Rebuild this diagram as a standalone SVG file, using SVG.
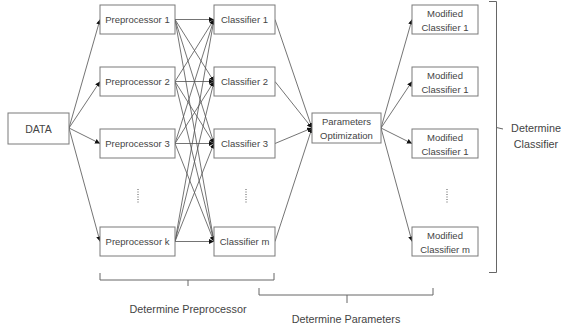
<svg xmlns="http://www.w3.org/2000/svg" width="562" height="327" viewBox="0 0 562 327">
<defs>
<style>
.box{fill:#fff;stroke:#7a7a7a;stroke-width:1}
.t{font-family:"Liberation Sans",Arial,sans-serif;font-size:9.5px;fill:#444;text-anchor:middle}
.big{font-size:10.8px}
.c{fill:none;stroke:#505050;stroke-width:0.8;marker-end:url(#ah)}
.br{fill:none;stroke:#666;stroke-width:1}
.dot{fill:none;stroke:#555;stroke-width:1;stroke-dasharray:1 1.5}
</style>
<marker id="ah" viewBox="0 0 6 6" refX="6" refY="3" markerWidth="5" markerHeight="5" markerUnits="userSpaceOnUse" orient="auto">
<path d="M0,0 L6,3 L0,6 z" fill="#111"/>
</marker>
</defs>
<rect width="562" height="327" fill="#fff"/>
<g id="connectors">
<path class="c" d="M69,128 L100,19.5"/>
<path class="c" d="M69,128 L100,81.5"/>
<path class="c" d="M69,128 L100,143.5"/>
<path class="c" d="M69,128 L100,241.5"/>
<path class="c" d="M175,19.5 L214,19.5"/>
<path class="c" d="M175,19.5 L214,81.5"/>
<path class="c" d="M175,19.5 L214,143.5"/>
<path class="c" d="M175,19.5 L214,241.5"/>
<path class="c" d="M175,81.5 L214,19.5"/>
<path class="c" d="M175,81.5 L214,81.5"/>
<path class="c" d="M175,81.5 L214,143.5"/>
<path class="c" d="M175,81.5 L214,241.5"/>
<path class="c" d="M175,143.5 L214,19.5"/>
<path class="c" d="M175,143.5 L214,81.5"/>
<path class="c" d="M175,143.5 L214,143.5"/>
<path class="c" d="M175,143.5 L214,241.5"/>
<path class="c" d="M175,241.5 L214,19.5"/>
<path class="c" d="M175,241.5 L214,81.5"/>
<path class="c" d="M175,241.5 L214,143.5"/>
<path class="c" d="M175,241.5 L214,241.5"/>
<path class="c" d="M275,19.5 L312,128"/>
<path class="c" d="M275,81.5 L312,128"/>
<path class="c" d="M275,143.5 L312,128"/>
<path class="c" d="M275,241.5 L312,128"/>
<path class="c" d="M381,128 L412,19.5"/>
<path class="c" d="M381,128 L412,81.5"/>
<path class="c" d="M381,128 L412,143.5"/>
<path class="c" d="M381,128 L412,241.5"/>
</g>
<g id="data"><rect class="box" x="8" y="113" width="61" height="31"/><text class="t" style="font-size:10.5px" x="38.5" y="132.5">DATA</text></g>
<g id="pre1"><rect class="box" x="100" y="5" width="75" height="29"/><text class="t" x="137.5" y="23">Preprocessor 1</text></g>
<g id="pre2"><rect class="box" x="100" y="67" width="75" height="29"/><text class="t" x="137.5" y="85">Preprocessor 2</text></g>
<g id="pre3"><rect class="box" x="100" y="129" width="75" height="29"/><text class="t" x="137.5" y="147">Preprocessor 3</text></g>
<g id="prek"><rect class="box" x="100" y="227" width="75" height="29"/><text class="t" x="137.5" y="245">Preprocessor k</text></g>
<g id="cls1"><rect class="box" x="214" y="5" width="61" height="29"/><text class="t" x="244.5" y="23">Classifier 1</text></g>
<g id="cls2"><rect class="box" x="214" y="67" width="61" height="29"/><text class="t" x="244.5" y="85">Classifier 2</text></g>
<g id="cls3"><rect class="box" x="214" y="129" width="61" height="29"/><text class="t" x="244.5" y="147">Classifier 3</text></g>
<g id="clsm"><rect class="box" x="214" y="227" width="61" height="29"/><text class="t" x="244.5" y="245">Classifier m</text></g>
<g id="paramopt"><rect class="box" x="312" y="113" width="69" height="30"/><text class="t" x="346.5" y="125">Parameters</text><text class="t" x="346.5" y="138.5">Optimization</text></g>
<g id="mod1"><rect class="box" x="412" y="5" width="66" height="29"/><text class="t" x="445" y="17">Modified</text><text class="t" x="445" y="30.5">Classifier 1</text></g>
<g id="mod2"><rect class="box" x="412" y="67" width="66" height="29"/><text class="t" x="445" y="79">Modified</text><text class="t" x="445" y="92.5">Classifier 1</text></g>
<g id="mod3"><rect class="box" x="412" y="129" width="66" height="29"/><text class="t" x="445" y="141">Modified</text><text class="t" x="445" y="154.5">Classifier 1</text></g>
<g id="modm"><rect class="box" x="412" y="227" width="66" height="29"/><text class="t" x="445" y="239">Modified</text><text class="t" x="445" y="252.5">Classifier m</text></g>
<g id="ellipses">
<path class="dot" d="M138,189 V204"/>
<path class="dot" d="M246,189 V204"/>
<path class="dot" d="M447,189 V204"/>
</g>
<g id="bracket-classifier">
<path class="br" d="M489,1.5 H496.5 V272.5 H489 M496.5,127.5 L503,129"/>
<text class="t big" x="536" y="132">Determine</text>
<text class="t big" x="536" y="148">Classifier</text>
</g>
<g id="bracket-preprocessor">
<path class="br" d="M100,273 V280 H274 V273 M188,280 V286"/>
<text class="t big" x="188" y="313">Determine Preprocessor</text>
</g>
<g id="bracket-parameters">
<path class="br" d="M259,288 V295 H433 V288 M347,295 V303"/>
<text class="t big" x="346" y="323">Determine Parameters</text>
</g>
</svg>
